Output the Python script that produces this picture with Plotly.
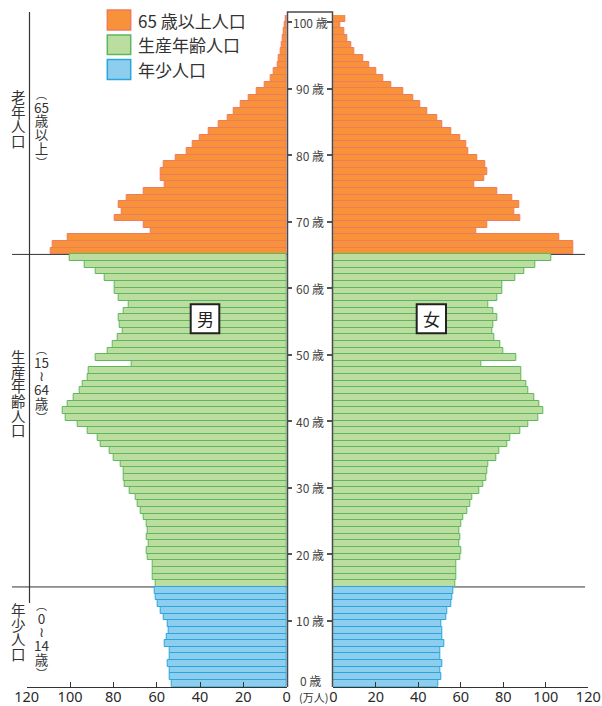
import plotly.graph_objects as go

W, H = 602, 706
FONT = "Noto Sans CJK JP"

# ---------------- data (万人) ----------------
ages_young = list(range(0, 15))
ages_working = list(range(15, 65))
ages_old = list(range(65, 101))

male_young = [52.9, 54.0, 54.2, 55.1, 54.2, 54.2, 56.2, 55.5, 54.6, 54.8,
              56.9, 58.0, 59.7, 60.3, 60.8]
male_working = [60.6, 62.0, 62.0, 62.0, 64.0, 64.6, 63.7, 64.6, 64.2, 64.8,
                65.9, 67.5, 68.8, 69.9, 72.6, 74.9, 75.4, 75.4, 76.6, 80.0,
                81.9, 86.0, 87.4, 92.0, 96.6, 101.9, 103.6, 101.2, 98.2, 95.4,
                94.3, 92.0, 91.6, 71.4, 88.0, 82.8, 80.5, 77.9, 75.9, 76.9,
                77.7, 75.4, 73.1, 77.4, 79.6, 79.6, 83.9, 88.0, 93.1, 100.3]
male_old = [108.8, 107.9, 101.2, 62.6, 65.9, 79.6, 76.2, 77.6, 73.9, 65.9,
            56.5, 58.0, 58.0, 56.6, 51.1, 46.0, 43.6, 40.0, 35.9, 31.2,
            27.4, 24.6, 21.1, 17.7, 13.8, 10.3, 7.4, 5.9, 4.2, 3.6,
            2.6, 2.3, 1.8, 1.2, 0.8, 0.5]

female_young = [49.3, 50.7, 50.5, 51.5, 50.5, 50.5, 52.2, 51.5, 51.5, 51.0,
                53.0, 53.6, 55.7, 56.2, 56.6]
female_working = [57.6, 58.0, 58.0, 58.0, 59.9, 60.4, 59.5, 59.9, 59.5, 60.4,
                  61.3, 63.2, 64.5, 65.6, 68.9, 70.6, 72.0, 72.6, 73.1, 76.6,
                  78.3, 81.7, 83.3, 88.2, 91.8, 96.6, 98.7, 96.9, 94.6, 91.8,
                  91.0, 88.5, 88.5, 69.6, 86.1, 80.2, 78.7, 75.9, 74.8, 75.3,
                  77.2, 75.3, 73.1, 77.3, 79.5, 79.7, 85.5, 90.0, 95.2, 102.7]
female_old = [112.9, 112.9, 106.5, 67.2, 72.3, 87.8, 85.3, 87.4, 84.2, 77.0,
              66.5, 71.2, 72.6, 71.7, 67.9, 63.5, 62.4, 59.8, 55.7, 51.4,
              48.8, 44.4, 41.1, 37.8, 33.1, 27.1, 23.7, 20.2, 16.8, 14.3,
              9.9, 8.6, 6.7, 5.2, 3.5, 5.8]

group_names = ["65 歳以上人口", "生産年齢人口", "年少人口"]
group_side_labels = ["老年人口", "生産年齢人口", "年少人口"]
group_ranges = [["︵", "65", "歳", "以", "上", "︶"],
                ["︵", "15", "≀", "64", "歳", "︶"],
                ["︵", "0", "≀", "14", "歳", "︶"]]
age_ticks = [0, 10, 20, 30, 40, 50, 60, 70, 80, 90, 100]
x_ticks = [0, 20, 40, 60, 80, 100, 120]

# ---------------- styles ----------------
FILL = {"old": "#F7923B", "working": "#BBDDA0", "young": "#8DCDEE"}
EDGE = {"old": "#EF7B5E", "working": "#5DB85C", "young": "#2AA6DF"}


def px(x):
    return x / W


def py(y):
    return 1 - y / H


fig = go.Figure()

groups = [
    ("old", ages_old, male_old, female_old),
    ("working", ages_working, male_working, female_working),
    ("young", ages_young, male_young, female_young),
]
for key, ages, m, f in groups:
    fig.add_trace(go.Bar(y=ages, x=m, orientation="h", xaxis="x", yaxis="y",
                         marker=dict(color=FILL[key], line=dict(color=EDGE[key], width=1)),
                         showlegend=False, hoverinfo="x+y"))
    fig.add_trace(go.Bar(y=ages, x=f, orientation="h", xaxis="x2", yaxis="y2",
                         marker=dict(color=FILL[key], line=dict(color=EDGE[key], width=1)),
                         showlegend=False, hoverinfo="x+y"))

ydom = [py(686.7), py(15.0)]
yrange = [-0.5, 100.5]
tick_pos = [a - 0.6 for a in age_ticks if a > 0]

axis_font = dict(family="Noto Sans", size=14.5, color="#2a2a2a")
xcommon = dict(tickvals=x_ticks, ticks="inside", ticklen=5, tickcolor="#333",
               showline=True, linecolor="#333", linewidth=1, showgrid=False,
               zeroline=False, tickfont=axis_font, automargin=False,
               ticklabelstandoff=-3)
fig.update_layout(
    width=W, height=H,
    autosize=False,
    margin=dict(l=0, r=0, t=0, b=0, autoexpand=False),
    paper_bgcolor="white", plot_bgcolor="rgba(0,0,0,0)",
    bargap=0,
    font=dict(family=FONT, color="#333"),
    xaxis=dict(domain=[px(26.7), px(286.7)], range=[120, 0], anchor="y", **xcommon),
    xaxis2=dict(domain=[px(333.3), px(588.3)], range=[0, 120], anchor="y2", **xcommon),
    yaxis=dict(domain=ydom, range=yrange, anchor="x", side="right",
               tickvals=tick_pos, ticks="outside", ticklen=4, tickwidth=1.5,
               tickcolor="#555", showticklabels=False, showgrid=False,
               zeroline=False, showline=False, automargin=False),
    yaxis2=dict(domain=ydom, range=yrange, anchor="x2", side="left",
                tickvals=tick_pos, ticks="outside", ticklen=5, tickwidth=1.5,
                tickcolor="#555", showticklabels=False, showgrid=False,
                zeroline=False, showline=False, automargin=False),
)

shapes = []
annotations = []

# separator lines between age groups (under bars)
for yb in (14.5, 64.5):
    for x0, x1 in ((12, 287), (333, 585)):
        shapes.append(dict(type="line", xref="paper", yref="y", x0=px(x0), x1=px(x1),
                           y0=yb, y1=yb, line=dict(color="#333", width=1), layer="below"))

# left vertical line
shapes.append(dict(type="line", xref="paper", yref="paper", x0=px(29.5), x1=px(29.5),
                   y0=py(12), y1=py(603), line=dict(color="#333", width=1.2)))

# centre age column frame
shapes.append(dict(type="path", xref="paper", yref="paper",
                   path=f"M {px(287.5)} {py(687)} L {px(287.5)} {py(12)} "
                        f"L {px(332.5)} {py(12)} L {px(332.5)} {py(687)}",
                   line=dict(color="#4a4a4a", width=1.5)))

# age labels in centre
for a in age_ticks:
    yv = a - 0.6 if a > 0 else 0.5
    annotations.append(dict(text=f"{a} 歳", x=px(310), y=yv, xref="paper", yref="y",
                            showarrow=False, xanchor="center", yanchor="middle",
                            font=dict(family=FONT, size=12, color="#444")))

# unit label
annotations.append(dict(text="(万人)", x=px(313), y=py(696.5), xref="paper", yref="paper",
                        showarrow=False, xanchor="center", yanchor="middle",
                        font=dict(family=FONT, size=11, color="#333")))

# legend
leg_rows = [(10, 30, "old"), (35, 54.5, "working"), (59.5, 79.5, "young")]
for (y0, y1, key), name in zip(leg_rows, group_names):
    shapes.append(dict(type="rect", xref="paper", yref="paper", x0=px(107.3), x1=px(130.7),
                       y0=py(y1), y1=py(y0), fillcolor=FILL[key],
                       line=dict(color=EDGE[key], width=1.5)))
    annotations.append(dict(text=name, x=px(136), y=py((y0 + y1) / 2), xref="paper",
                            yref="paper", showarrow=False, xanchor="left", yanchor="middle",
                            font=dict(family=FONT, size=17, color="#333")))

# 男 / 女 boxes
for (x0, x1, label) in ((190.7, 219.3, "男"), (416.7, 446.0, "女")):
    shapes.append(dict(type="rect", xref="paper", yref="paper", x0=px(x0), x1=px(x1),
                       y0=py(333.3), y1=py(304.3), fillcolor="white",
                       line=dict(color="#222", width=2)))
    annotations.append(dict(text=label, x=px((x0 + x1) / 2), y=py(319), xref="paper",
                            yref="paper", showarrow=False, xanchor="center", yanchor="middle",
                            font=dict(family=FONT, size=17, color="#222")))


def stacked(parts, glyph_px, paren_px=None):
    out = []
    for p in parts:
        size = paren_px if (paren_px and p in ("︵", "︶")) else glyph_px
        out.append(f"<span style='font-size:{size}px'>{p}</span>")
    return "<br>".join(out)


# vertical (tategaki) group labels
main_centres = [118.75, 392.5, 631.75]
range_centres = [128, 383.25, 638.75]
for label, yc in zip(group_side_labels, main_centres):
    annotations.append(dict(text=stacked(list(label), 14.5), x=px(18.5), y=py(yc),
                            xref="paper", yref="paper", showarrow=False, xanchor="center",
                            yanchor="middle", align="center",
                            font=dict(family=FONT, size=11.3, color="#333")))
for parts, yc in zip(group_ranges, range_centres):
    annotations.append(dict(text=stacked(parts, 13.5, 11), x=px(41.5), y=py(yc),
                            xref="paper", yref="paper", showarrow=False, xanchor="center",
                            yanchor="middle", align="center",
                            font=dict(family=FONT, size=10.5, color="#333")))

fig.update_layout(shapes=shapes, annotations=annotations)
fig.write_html("out.html", config={"responsive": False, "displayModeBar": False},
               post_script="document.body.style.margin='0';")
